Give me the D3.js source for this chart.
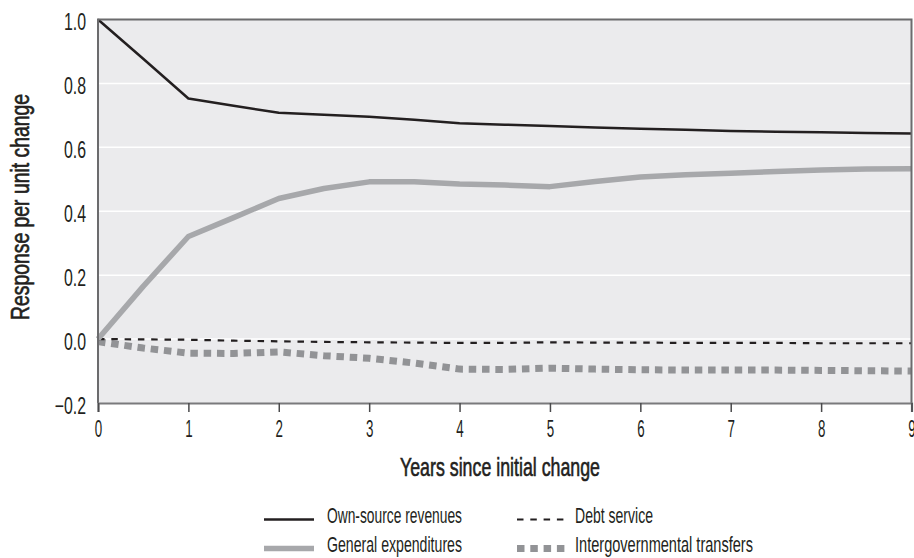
<!DOCTYPE html>
<html>
<head>
<meta charset="utf-8">
<script src="https://cdn.jsdelivr.net/npm/d3@7"></script>
<style>
  html, body { margin: 0; padding: 0; background: #ffffff; }
  svg { display: block; }
</style>
</head>
<body>
<svg id="chart" width="914" height="558"></svg>
<script>
// ---- Data ----
const years = [0, 0.5, 1, 1.5, 2, 2.5, 3, 3.5, 4, 4.5, 5, 5.5, 6, 6.5, 7, 7.5, 8, 8.5, 9];
const ownSource = [1.0, 0.877, 0.753, 0.730, 0.708, 0.702, 0.696, 0.686, 0.675, 0.671, 0.667, 0.662, 0.658, 0.655, 0.651, 0.649, 0.647, 0.645, 0.643];
const generalExp = [0.0, 0.165, 0.321, 0.380, 0.440, 0.471, 0.492, 0.492, 0.485, 0.482, 0.477, 0.493, 0.507, 0.514, 0.519, 0.524, 0.529, 0.532, 0.533];
const debtService = [0.0, -0.001, -0.002, -0.005, -0.007, -0.009, -0.010, -0.011, -0.012, -0.012, -0.010, -0.011, -0.011, -0.012, -0.012, -0.012, -0.013, -0.013, -0.013];
const transfers = [-0.008, -0.028, -0.044, -0.045, -0.040, -0.052, -0.060, -0.075, -0.094, -0.095, -0.091, -0.094, -0.096, -0.097, -0.097, -0.097, -0.098, -0.099, -0.100];
const seriesNames = ["Own-source revenues", "General expenditures", "Debt service", "Intergovernmental transfers"];
const xTicks = [0, 1, 2, 3, 4, 5, 6, 7, 8, 9];
const yTicks = [-0.2, 0.0, 0.2, 0.4, 0.6, 0.8, 1.0];
const yTickLabels = ["\u22120.2", "0.0", "0.2", "0.4", "0.6", "0.8", "1.0"];
const xTitle = "Years since initial change";
const yTitle = "Response per unit change";

// ---- Layout ----
const svg = d3.select("#chart");
const L = 98, R = 911.5, T = 19.5, B = 403;
const x = d3.scaleLinear().domain([0, 9]).range([L, R]);
const y = d3.scaleLinear().domain([-0.2, 1.0]).range([B, T]);
const FONT = "'Liberation Sans', Arial, sans-serif";
const INK = "#231f20";

function squeeze(sel, f) {
  sel.each(function () {
    const w = this.getComputedTextLength();
    d3.select(this).attr("textLength", w * f).attr("lengthAdjust", "spacingAndGlyphs");
  });
}

// plot background
svg.append("rect").attr("x", L).attr("y", T).attr("width", R - L).attr("height", B - T)
  .attr("fill", "#ebebed");

// gridlines
svg.append("g").selectAll("line").data(yTicks.filter(v => v > -0.2 && v < 1.0)).join("line")
  .attr("x1", L).attr("x2", R).attr("y1", d => y(d)).attr("y2", d => y(d))
  .attr("stroke", "#ffffff").attr("stroke-width", 1.5);

// series lines
const line = d3.line().x((d, i) => x(years[i])).y(d => y(d));

svg.append("path").datum(transfers).attr("d", line)
  .attr("fill", "none").attr("stroke", "#929396").attr("stroke-width", 7)
  .attr("stroke-dasharray", "7.5,5.8");
svg.append("path").datum(debtService).attr("d", line)
  .attr("fill", "none").attr("stroke", INK).attr("stroke-width", 2.2)
  .attr("stroke-dasharray", "6.5,6.8");
svg.append("path").datum(generalExp).attr("d", line)
  .attr("fill", "none").attr("stroke", "#a7a8ab").attr("stroke-width", 5.5)
  .attr("stroke-linejoin", "round");
svg.append("path").datum(ownSource).attr("d", line)
  .attr("fill", "none").attr("stroke", INK).attr("stroke-width", 2.5)
  .attr("stroke-linejoin", "round");

// frame: top, right, left
svg.append("path")
  .attr("d", `M${L},${B} L${L},${T} L${R},${T} L${R},${B}`)
  .attr("fill", "none").attr("stroke", "#6b6b6d").attr("stroke-width", 2);

// x axis
const xAxis = svg.append("g").attr("transform", `translate(0,${B})`)
  .call(d3.axisBottom(x).tickValues(xTicks).tickSize(9).tickPadding(14).tickFormat(d3.format("d")));
xAxis.select(".domain").attr("stroke", "#7a7a7c").attr("stroke-width", 2.2);
xAxis.selectAll(".tick line").attr("stroke", "#4a4a4c").attr("stroke-width", 1.5);
xAxis.selectAll(".tick text")
  .attr("font-family", FONT).attr("font-size", 23).attr("fill", INK)
  .attr("dy", null).attr("y", 33.5)
  .call(squeeze, 0.58);

// y axis
const yAxis = svg.append("g").attr("transform", `translate(${L},0)`)
  .call(d3.axisLeft(y).tickValues(yTicks).tickSize(0).tickPadding(12)
    .tickFormat((d, i) => yTickLabels[i]));
yAxis.select(".domain").remove();
yAxis.selectAll(".tick text")
  .attr("font-family", FONT).attr("font-size", 23).attr("fill", INK)
  .attr("dy", null).attr("y", 10)
  .call(squeeze, 0.69);

// axis titles
svg.append("text").attr("x", 500).attr("y", 476)
  .attr("text-anchor", "middle").attr("font-family", FONT).attr("font-size", 25)
  .attr("fill", INK).attr("stroke", INK).attr("stroke-width", 0.6)
  .attr("textLength", 200).attr("lengthAdjust", "spacingAndGlyphs")
  .text(xTitle);
svg.append("text").attr("transform", "translate(29,207) rotate(-90)")
  .attr("text-anchor", "middle").attr("font-family", FONT).attr("font-size", 25)
  .attr("fill", INK).attr("stroke", INK).attr("stroke-width", 0.6)
  .attr("textLength", 226).attr("lengthAdjust", "spacingAndGlyphs")
  .text(yTitle);

// legend
const legendItems = [
  { name: seriesNames[0], sx: 264, tx: 327, by: 523, w: 135, stroke: INK, sw: 2.5, dash: null },
  { name: seriesNames[1], sx: 264, tx: 327, by: 552, w: 135, stroke: "#a7a8ab", sw: 5.5, dash: null },
  { name: seriesNames[2], sx: 517, tx: 575, by: 523, w: 78, stroke: INK, sw: 2.2, dash: "6.5,6.8" },
  { name: seriesNames[3], sx: 517, tx: 575, by: 552, w: 178, stroke: "#929396", sw: 7, dash: "7.5,5.8" }
];
const lg = svg.append("g");
legendItems.forEach(it => {
  lg.append("line").attr("x1", it.sx).attr("x2", it.sx + 50)
    .attr("y1", it.by - 3.5).attr("y2", it.by - 3.5)
    .attr("stroke", it.stroke).attr("stroke-width", it.sw)
    .attr("stroke-dasharray", it.dash);
  lg.append("text").attr("x", it.tx).attr("y", it.by)
    .attr("font-family", FONT).attr("font-size", 22).attr("fill", INK)
    .attr("textLength", it.w).attr("lengthAdjust", "spacingAndGlyphs")
    .text(it.name);
});
</script>
</body>
</html>
